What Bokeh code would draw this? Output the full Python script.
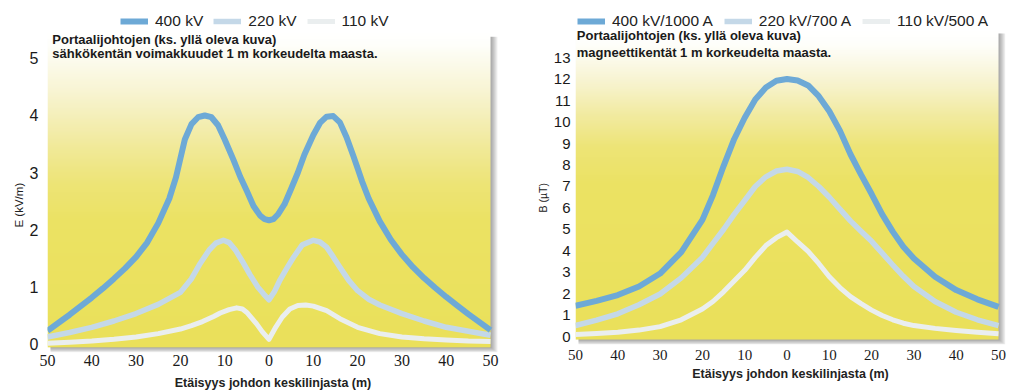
import numpy as np
from bokeh.plotting import figure
from bokeh.layouts import row
from bokeh.models import (Range1d, FixedTicker, CustomJSTickFormatter, Legend,
                          LegendItem, Label, Title)
from bokeh.embed import file_html
from bokeh.resources import INLINE

# ---------------- data: left chart, electric field (kV/m) ----------------
e_dist_400 = [-50, -47.5, -45, -42.5, -40, -37.5, -35, -32.5, -30, -27.5,
              -25, -22.5, -21, -20, -19, -17.5, -16, -14.5, -13, -11.5,
              -10, -8, -6.5, -5, -3.5, -2, -1, 0, 1, 2,
              3.5, 5, 6.5, 8, 10, 11.5, 13, 14.5, 16, 17.5,
              19, 20, 21, 22.5, 25, 27.5, 30, 32.5, 35, 37.5,
              40, 42.5, 45, 47.5, 50]
e_400 = [0.24, 0.38, 0.52, 0.67, 0.82, 0.98, 1.15, 1.33, 1.53, 1.78,
         2.12, 2.55, 2.92, 3.25, 3.58, 3.85, 3.97, 4.00, 3.97, 3.83,
         3.58, 3.22, 2.93, 2.68, 2.42, 2.25, 2.19, 2.17, 2.19, 2.27,
         2.45, 2.72, 3.00, 3.32, 3.66, 3.87, 3.98, 3.99, 3.88, 3.62,
         3.30, 3.08, 2.85, 2.55, 2.15, 1.83, 1.57, 1.35, 1.16, 0.99,
         0.83, 0.68, 0.53, 0.39, 0.25]

e_dist_220 = [-50, -45, -40, -35, -30, -25, -20, -17.5, -15.5, -13.5,
              -12, -10.3, -9, -7.5, -6, -4.3, -2.5, -1.2, 0, 1.2,
              2.5, 4, 5.5, 7.5, 10, 11.5, 13, 14.5, 16, 18,
              20, 22.5, 25, 30, 35, 40, 45, 50]
e_220 = [0.13, 0.21, 0.30, 0.41, 0.54, 0.70, 0.91, 1.15, 1.42, 1.65,
         1.77, 1.82, 1.78, 1.64, 1.45, 1.22, 1.00, 0.88, 0.78, 0.92,
         1.13, 1.33, 1.52, 1.74, 1.82, 1.79, 1.70, 1.53, 1.35, 1.12,
         0.94, 0.79, 0.69, 0.54, 0.41, 0.30, 0.23, 0.16]

e_dist_110 = [-50, -45, -40, -35, -30, -25, -20, -17.5, -15, -12.5,
              -11, -9, -7.3, -6, -5, -4, -2.8, -1.5, 0, 1.5,
              3, 4.7, 6.5, 8.3, 10, 13, 16, 20, 25, 30,
              35, 40, 45, 50]
e_110 = [0.02, 0.04, 0.06, 0.09, 0.13, 0.19, 0.27, 0.33, 0.40, 0.49,
         0.55, 0.61, 0.64, 0.62, 0.56, 0.47, 0.36, 0.22, 0.09, 0.30,
         0.48, 0.62, 0.68, 0.69, 0.67, 0.59, 0.45, 0.30, 0.19, 0.13,
         0.10, 0.08, 0.06, 0.05]

# ---------------- data: right chart, magnetic field (µT) ----------------
b_dist = [-50, -45, -40, -35, -30, -25, -20, -17.5, -15, -12.5,
          -10, -7.5, -5, -2.5, 0, 2.5, 5, 7.5, 10, 12.5,
          15, 17.5, 20, 22.5, 25, 27.5, 30, 35, 40, 45, 50]
b_400 = [1.45, 1.68, 1.95, 2.35, 2.95, 3.95, 5.45, 6.60, 7.95, 9.20,
         10.20, 11.05, 11.60, 11.92, 12.00, 11.93, 11.70, 11.20, 10.50, 9.60,
         8.50, 7.55, 6.65, 5.70, 4.90, 4.20, 3.65, 2.80, 2.18, 1.75, 1.40]
b_220 = [0.53, 0.78, 1.08, 1.50, 2.00, 2.75, 3.70, 4.35, 5.00, 5.70,
         6.35, 7.00, 7.45, 7.72, 7.80, 7.70, 7.42, 7.00, 6.50, 5.95,
         5.40, 4.92, 4.45, 3.90, 3.35, 2.82, 2.35, 1.65, 1.15, 0.80, 0.53]
b_110 = [0.12, 0.16, 0.22, 0.32, 0.48, 0.80, 1.30, 1.65, 2.10, 2.60,
         3.10, 3.70, 4.25, 4.62, 4.88, 4.42, 3.98, 3.42, 2.80, 2.30,
         1.88, 1.55, 1.25, 1.00, 0.80, 0.64, 0.53, 0.40, 0.30, 0.22, 0.15]

left_labels = ["400 kV", "220 kV", "110 kV"]
right_labels = ["400 kV/1000 A", "220 kV/700 A", "110 kV/500 A"]
x_ticks = [-50, -40, -30, -20, -10, 0, 10, 20, 30, 40, 50]
e_ticks = [0, 1, 2, 3, 4, 5]
b_ticks = list(range(0, 14))

left_title = ["Portaalijohtojen (ks. yllä oleva kuva)",
              "sähkökentän voimakkuudet 1 m korkeudelta maasta."]
right_title = ["Portaalijohtojen (ks. yllä oleva kuva)",
               "magneettikentät 1 m korkeudelta maasta."]
x_title = "Etäisyys johdon keskilinjasta (m)"
e_axis_title = "E (kV/m)"
b_axis_title = "B (µT)"

# ---------------- styling ----------------
C400 = "#6da9d6"
C220 = "#c4d8e8"
C110 = "#eaeeef"
SANS = "Liberation Sans"
SERIF = "Liberation Serif"


def hex_rgb(h):
    h = h.lstrip("#")
    return [int(h[i:i + 2], 16) for i in (0, 2, 4)]


def gradient_image(stops, n=300):
    img = np.empty((n, 2), dtype=np.uint32)
    view = img.view(dtype=np.uint8).reshape((n, 2, 4))
    fr = [s[0] for s in stops]
    cols = np.array([hex_rgb(s[1]) for s in stops], dtype=float)
    for i in range(n):
        f = 1.0 - (i + 0.5) / n  # fraction from top
        for c in range(3):
            view[i, :, c] = int(round(np.interp(f, fr, cols[:, c])))
        view[i, :, 3] = 255
    return img


def make_fig(fw, fh, xr, yr, mb):
    p = figure(frame_width=fw, frame_height=fh, output_backend="svg",
               toolbar_location=None, x_range=Range1d(*xr), y_range=Range1d(*yr),
               min_border_left=mb[0], min_border_right=mb[1],
               min_border_top=mb[2], min_border_bottom=mb[3])
    p.outline_line_color = None
    p.background_fill_color = "white"
    p.border_fill_color = "white"
    return p


def add_panel(p, y0, y1, ux, uy, stops):
    # soft drop shadow
    for k in range(1, 8):
        p.quad(left=-50 + 3 * ux, right=50 + k * ux,
               bottom=y0 - k * 0.75 * uy, top=y1 - 3 * uy,
               fill_color="black", fill_alpha=0.055, line_color=None)
    p.image_rgba(image=[gradient_image(stops)], x=-50, y=y0, dw=100, dh=y1 - y0)


def style_axes(p, yticks, y_font, y_standoff, x_font, x_standoff, x_lab_standoff):
    for ax in (p.xaxis[0], p.yaxis[0]):
        ax.axis_line_color = None
        ax.major_tick_line_color = None
        ax.minor_tick_line_color = None
        ax.major_tick_out = 0
        ax.major_tick_in = 0
        ax.major_label_text_color = "#1a1a1a"
    xa = p.xaxis[0]
    xa.ticker = FixedTicker(ticks=x_ticks)
    xa.formatter = CustomJSTickFormatter(code="return Math.abs(tick).toString();")
    xa.major_label_text_font = SERIF
    xa.major_label_text_font_size = x_font
    xa.major_label_standoff = x_standoff
    xa.axis_label = x_title
    xa.axis_label_text_font = SANS
    xa.axis_label_text_color = "#222222"
    xa.axis_label_text_font_size = "12.5px"
    xa.axis_label_text_font_style = "bold"
    xa.axis_label_standoff = x_lab_standoff

    ya = p.yaxis[0]
    ya.ticker = FixedTicker(ticks=yticks)
    ya.major_label_text_font = SANS
    ya.major_label_text_font_size = y_font
    ya.major_label_standoff = y_standoff


def style_grid(p, ybounds, y0, y1):
    p.xgrid.grid_line_color = "white"
    p.xgrid.grid_line_width = 1.5
    p.xgrid.bounds = (-45, 45)
    p.xgrid.cross_bounds = (y0, y1)
    p.ygrid.grid_line_color = "white"
    p.ygrid.grid_line_width = 1.5
    p.ygrid.bounds = ybounds
    p.ygrid.cross_bounds = (-50, 50)
    p.xgrid.level = "underlay"
    p.ygrid.level = "underlay"


def add_legend(p, renderers, labels, loc, spacing):
    items = [LegendItem(label=l, renderers=[r]) for l, r in zip(labels, renderers)]
    lg = Legend(items=items, location=loc, orientation="horizontal",
                glyph_width=28, glyph_height=8, label_standoff=7, spacing=spacing,
                padding=0, margin=0, border_line_alpha=0, background_fill_alpha=0,
                label_text_font=SANS, label_text_font_size="15.5px",
                label_text_color="#222222", label_height=16)
    p.add_layout(lg)


def add_title(p, lines, x, ys):
    for t, y in zip(lines, ys):
        p.add_layout(Label(x=x, y=y, text=t, text_font=SANS, text_font_size="13px",
                           text_font_style="bold", text_color="#1a1a1a",
                           text_baseline="middle"))


def add_ytitle(p, text, offset, standoff, size):
    # align="left" on a left-side title starts the text at the bottom of the panel,
    # shifted upwards by `offset` pixels
    p.add_layout(Title(text=text, align="left", offset=offset, standoff=standoff,
                       text_font=SANS, text_font_size=size,
                       text_font_style="normal", text_color="#222222"), "left")


# ---------------- left chart ----------------
L_UX = 100 / 443.0     # data units per pixel (x)
L_UY = 1 / 57.25       # data units per pixel (y)
pl = make_fig(451, 344, (-50, 51.8), (-0.14, 5.869), (47, 14, 8, 36))
add_panel(pl, -0.05, 5.43, L_UX, L_UY,
          [(0, "#ffffff"), (0.04, "#fefefa"), (0.2, "#f7f3cf"), (0.35, "#f1ea9e"),
           (0.48, "#ede476"), (0.6, "#ebe263"), (1, "#eae05a")])
style_grid(pl, (0.5, 4.5), -0.05, 5.43)
l110 = pl.line(e_dist_110, e_110, line_color=C110, line_width=5, line_join="round")
l220 = pl.line(e_dist_220, e_220, line_color=C220, line_width=5.5, line_join="round")
l400 = pl.line(e_dist_400, e_400, line_color=C400, line_width=6, line_join="round")
style_axes(pl, e_ticks, "16px", 9, "16px", 2, 7)
add_legend(pl, [l400, l220, l110], left_labels, (73, 322), 10)
add_title(pl, left_title, -48.9, [5.33, 5.08])
add_ytitle(pl, e_axis_title, 125, 4, "11.5px")

# ---------------- right chart ----------------
R_UX = 100 / 423.0
R_UY = 1 / 21.5
pr = make_fig(430, 336, (-50, 51.65), (-0.35, 15.28), (63, 10, 8, 44))
add_panel(pr, -0.12, 14.26, R_UX, R_UY,
          [(0, "#ffffff"), (0.05, "#fefefa"), (0.17, "#f7f3cf"), (0.28, "#f1ea9e"),
           (0.38, "#ede476"), (0.5, "#ebe263"), (1, "#eae05a")])
style_grid(pr, (0.5, 12.5), -0.12, 14.26)
r110 = pr.line(b_dist, b_110, line_color=C110, line_width=5, line_join="round")
r220 = pr.line(b_dist, b_220, line_color=C220, line_width=5.5, line_join="round")
r400 = pr.line(b_dist, b_400, line_color=C400, line_width=6, line_join="round")
style_axes(pr, b_ticks, "15px", 5, "15px", 5, 4)
add_legend(pr, [r400, r220, r110], right_labels, (2, 314), 11)
add_title(pr, right_title, -49.7, [14.02, 13.23])
add_ytitle(pr, b_axis_title, 132, 4, "10.5px")

layout = row(pl, pr)
open("out.html", "w").write(file_html(layout, INLINE))
